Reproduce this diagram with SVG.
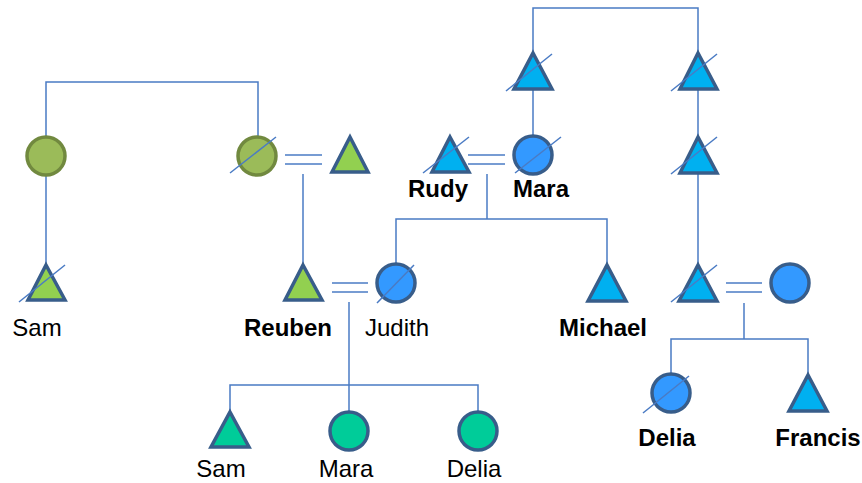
<svg xmlns="http://www.w3.org/2000/svg" width="862" height="483" viewBox="0 0 862 483">
  <style>
    .ln { stroke: #4A7BC4; stroke-width: 1.5; fill: none; }
    .slash { stroke: #4A7BC4; stroke-width: 1.5; }
    .shape { stroke: #385D8A; stroke-width: 3.5; stroke-linejoin: miter; }
    .olive { fill: #9BBB59; stroke: #71893F; stroke-width: 3.5; }
    .green { fill: #92D050; }
    .cyan { fill: #00B0F0; }
    .blue { fill: #3399FF; }
    .teal { fill: #00CC99; }
    text { font-family: "Liberation Sans", Arial, sans-serif; font-size: 24px; fill: #000; text-anchor: middle; }
    .b { font-weight: bold; }
  </style>

  <g id="connectors">
    <!-- left family -->
    <polyline class="ln" points="46,137 46,82 258,82 258,137"/>
    <line class="ln" x1="46" y1="175" x2="46" y2="265"/>
    <line class="ln" x1="285" y1="155" x2="322" y2="155"/>
    <line class="ln" x1="285" y1="164" x2="322" y2="164"/>
    <line class="ln" x1="303" y1="174" x2="303" y2="265"/>
    <line class="ln" x1="332" y1="283" x2="368" y2="283"/>
    <line class="ln" x1="332" y1="292" x2="368" y2="292"/>
    <line class="ln" x1="349" y1="302" x2="349" y2="385"/>
    <polyline class="ln" points="230,412 230,385 478,385 478,412"/>
    <line class="ln" x1="349" y1="385" x2="349" y2="412"/>
    <!-- Rudy / Mara family -->
    <polyline class="ln" points="533,53 533,8 698,8 698,53"/>
    <line class="ln" x1="533" y1="89" x2="533" y2="136"/>
    <line class="ln" x1="468" y1="155" x2="505" y2="155"/>
    <line class="ln" x1="468" y1="164" x2="505" y2="164"/>
    <line class="ln" x1="487" y1="174" x2="487" y2="219"/>
    <polyline class="ln" points="396,264 396,219 607,219 607,265"/>
    <!-- right family -->
    <line class="ln" x1="698" y1="89" x2="698" y2="137"/>
    <line class="ln" x1="698" y1="173" x2="698" y2="265"/>
    <line class="ln" x1="726" y1="283" x2="762" y2="283"/>
    <line class="ln" x1="726" y1="292" x2="762" y2="292"/>
    <line class="ln" x1="744" y1="303" x2="744" y2="339"/>
    <polyline class="ln" points="671,374 671,339 808,339 808,375"/>
  </g>

  <g id="gp-left">
    <circle class="olive" cx="46" cy="156" r="19"/>
  </g>
  <g id="gp-right">
    <circle class="olive" cx="257" cy="156" r="19"/>
    <line class="slash" x1="230" y1="173" x2="276" y2="137"/>
  </g>
  <g id="spouse-green">
    <polygon class="shape green" points="350,137 368,172 332,172"/>
  </g>
  <g id="sam-top">
    <polygon class="shape green" points="46,265 65,300 28,300"/>
    <line class="slash" x1="19" y1="302" x2="65" y2="265"/>
    <text x="37" y="336">Sam</text>
  </g>
  <g id="reuben">
    <polygon class="shape green" points="303,265 322,300 285,300"/>
    <text class="b" x="288" y="336">Reuben</text>
  </g>
  <g id="judith">
    <circle class="shape blue" cx="396" cy="283" r="19"/>
    <line class="slash" x1="377" y1="303" x2="414" y2="265"/>
    <text x="397" y="336">Judith</text>
  </g>
  <g id="sam-child">
    <polygon class="shape teal" points="230,412 249,447 211,447"/>
    <text x="221" y="477">Sam</text>
  </g>
  <g id="mara-child">
    <circle class="shape teal" cx="349" cy="431" r="19"/>
    <text x="346" y="477">Mara</text>
  </g>
  <g id="delia-child">
    <circle class="shape teal" cx="478" cy="431" r="19"/>
    <text x="474" y="477">Delia</text>
  </g>

  <g id="gf-left">
    <polygon class="shape cyan" points="533,53 552,89 514,89"/>
    <line class="slash" x1="506" y1="91" x2="552" y2="54"/>
  </g>
  <g id="gf-right">
    <polygon class="shape cyan" points="698,53 717,89 680,89"/>
    <line class="slash" x1="671" y1="91" x2="717" y2="54"/>
  </g>
  <g id="rudy">
    <polygon class="shape cyan" points="450,137 469,172 432,172"/>
    <line class="slash" x1="423" y1="173" x2="469" y2="137"/>
    <text class="b" x="438" y="197">Rudy</text>
  </g>
  <g id="mara">
    <circle class="shape blue" cx="533" cy="155" r="19"/>
    <line class="slash" x1="515" y1="173" x2="561" y2="137"/>
    <text class="b" x="541" y="197">Mara</text>
  </g>
  <g id="michael">
    <polygon class="shape cyan" points="607,265 626,301 588,301"/>
    <text class="b" x="603" y="336">Michael</text>
  </g>
  <g id="father-mid">
    <polygon class="shape cyan" points="698,137 717,173 680,173"/>
    <line class="slash" x1="671" y1="174" x2="717" y2="137"/>
  </g>
  <g id="father-low">
    <polygon class="shape cyan" points="698,265 717,301 679,301"/>
    <line class="slash" x1="671" y1="302" x2="717" y2="265"/>
  </g>
  <g id="mother-right">
    <circle class="shape blue" cx="790" cy="283" r="19"/>
  </g>
  <g id="delia">
    <circle class="shape blue" cx="671" cy="393" r="19"/>
    <line class="slash" x1="643" y1="413" x2="689" y2="376"/>
    <text class="b" x="667" y="446">Delia</text>
  </g>
  <g id="francis">
    <polygon class="shape cyan" points="808,375 827,411 789,411"/>
    <text class="b" x="818" y="446">Francis</text>
  </g>
</svg>
